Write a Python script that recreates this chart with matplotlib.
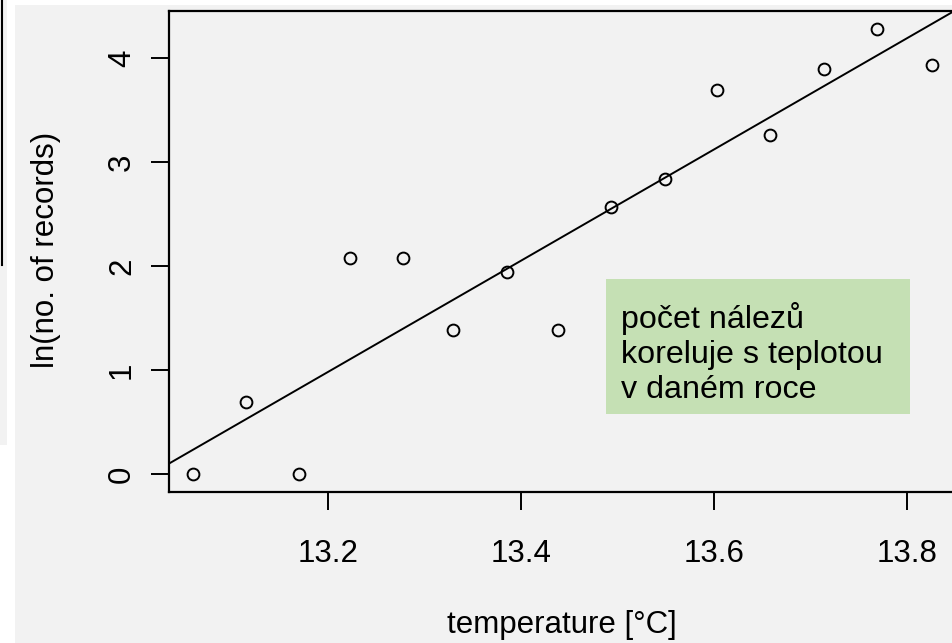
import numpy as np
import matplotlib.pyplot as plt
from matplotlib.patches import Rectangle

plt.rcParams['font.family'] = ['Liberation Sans', 'DejaVu Sans']

# mean yearly temperature and log of record counts
temperature = [13.06, 13.115, 13.17, 13.223, 13.278, 13.33, 13.385, 13.438,
               13.493, 13.549, 13.603, 13.658, 13.714, 13.769, 13.826]
log_records = [0.0, 0.693, 0.0, 2.079, 2.079, 1.386, 1.946, 1.386,
               2.565, 2.833, 3.689, 3.258, 3.892, 4.277, 3.932]
x_ticks = [13.2, 13.4, 13.6, 13.8]
y_ticks = [0, 1, 2, 3, 4]
note_lines = ['počet nálezů', 'koreluje s teplotou', 'v daném roce']

W, H = 953, 643
fig = plt.figure(figsize=(W / 100, H / 100), dpi=100, facecolor='white')

# slide panels behind the plot
fig.patches.append(Rectangle((15 / W, 0), 1, 1 - 5 / H, transform=fig.transFigure,
                             facecolor='#f2f2f2', edgecolor='none', zorder=-2))
fig.patches.append(Rectangle((0, 1 - 445 / H), 7 / W, 445 / H, transform=fig.transFigure,
                             facecolor='#f2f2f2', edgecolor='none', zorder=-2))
fig.add_artist(plt.Line2D([2 / W, 2 / W], [1 - 265 / H, 1], transform=fig.transFigure,
                          color='black', lw=1.5, zorder=-1))

left, right, top, bottom = 169, 954, 11, 492
ax = fig.add_axes([left / W, 1 - bottom / H, (right - left) / W, (bottom - top) / H])
ax.set_facecolor('#f2f2f2')
ax.set_zorder(1)

ax.plot(temperature, log_records, 'o', mfc='none', mec='black', ms=8.5, mew=1.4)

# least squares line, clipped to the plot box
slope, intercept = np.polyfit(temperature, log_records, 1)
xs = np.array([13.0, 13.9])
ax.plot(xs, intercept + slope * xs, color='black', lw=1.4)

ax.set_xlim(13.035, 13.849)
ax.set_ylim(-0.173, 4.45)
ax.set_xticks(x_ticks)
ax.set_xticklabels([f'{t:.1f}' for t in x_ticks])
ax.set_yticks(y_ticks)
ax.set_yticklabels([str(t) for t in y_ticks], rotation=90, va='center')
ax.tick_params(labelsize=22.5, length=13, width=1.4, colors='black')
ax.tick_params(axis='x', pad=21)
ax.tick_params(axis='y', pad=10)
for s in ax.spines.values():
    s.set_linewidth(1.6)

fig.text(562 / W, 1 - 625 / H, 'temperature [°C]', fontsize=22.5, ha='center', va='center')
fig.text(46 / W, 1 - 250 / H, 'ln(no. of records)', fontsize=22.5, ha='center', va='center',
         rotation=90)

# note box
note_ax = fig.add_axes([606 / W, 1 - 414 / H, 304 / W, 135 / H])
note_ax.set_zorder(2)
note_ax.set_facecolor('#c5e0b4')
note_ax.set_xticks([])
note_ax.set_yticks([])
for s in note_ax.spines.values():
    s.set_visible(False)
note_ax.text(15 / 304, 0.45, '\n'.join(note_lines), transform=note_ax.transAxes,
             fontsize=23.2, ha='left', va='center', linespacing=1.22)

fig.savefig('out.png', dpi=100, facecolor=fig.get_facecolor())
